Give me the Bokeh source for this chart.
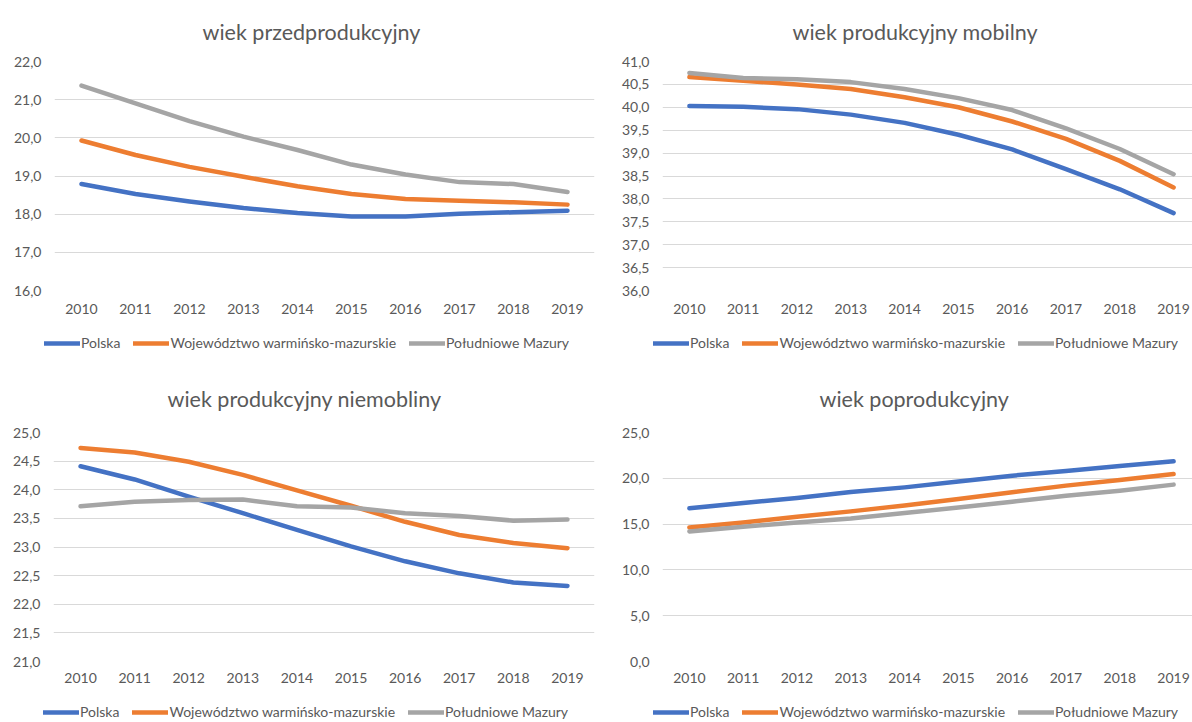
from bokeh.plotting import figure
from bokeh.models import FixedTicker, CustomJSTickFormatter, Range1d, Legend, LegendItem
from bokeh.layouts import column, row
from bokeh.embed import file_html
from bokeh.resources import INLINE

years = [2010, 2011, 2012, 2013, 2014, 2015, 2016, 2017, 2018, 2019]
series_names = ["Polska", "Województwo warmińsko-mazurskie", "Południowe Mazury"]
colors = ["#4472C4", "#ED7D31", "#A5A5A5"]

# wiek przedprodukcyjny
pre_polska = [18.79, 18.53, 18.33, 18.16, 18.03, 17.94, 17.94, 18.01, 18.05, 18.09]
pre_woj = [19.93, 19.55, 19.24, 18.98, 18.73, 18.53, 18.40, 18.35, 18.31, 18.25]
pre_mazury = [21.37, 20.90, 20.44, 20.03, 19.68, 19.30, 19.04, 18.84, 18.79, 18.58]
pre_ticks = [16.0, 17.0, 18.0, 19.0, 20.0, 21.0, 22.0]

# wiek produkcyjny mobilny
mob_polska = [40.03, 40.01, 39.96, 39.84, 39.66, 39.40, 39.08, 38.65, 38.21, 37.69]
mob_woj = [40.66, 40.58, 40.50, 40.40, 40.22, 40.00, 39.69, 39.31, 38.83, 38.25]
mob_mazury = [40.75, 40.64, 40.61, 40.55, 40.40, 40.20, 39.94, 39.54, 39.09, 38.54]
mob_ticks = [36.0, 36.5, 37.0, 37.5, 38.0, 38.5, 39.0, 39.5, 40.0, 40.5, 41.0]

# wiek produkcyjny niemobilny
nie_polska = [24.41, 24.18, 23.88, 23.59, 23.30, 23.01, 22.75, 22.54, 22.38, 22.32]
nie_woj = [24.73, 24.65, 24.49, 24.26, 23.99, 23.72, 23.44, 23.21, 23.07, 22.98]
nie_mazury = [23.71, 23.79, 23.82, 23.83, 23.71, 23.69, 23.59, 23.54, 23.46, 23.48]
nie_ticks = [21.0, 21.5, 22.0, 22.5, 23.0, 23.5, 24.0, 24.5, 25.0]

# wiek poprodukcyjny
post_polska = [16.72, 17.30, 17.85, 18.50, 19.01, 19.64, 20.29, 20.80, 21.35, 21.86]
post_woj = [14.63, 15.18, 15.80, 16.39, 17.04, 17.74, 18.47, 19.20, 19.82, 20.47]
post_mazury = [14.20, 14.71, 15.18, 15.62, 16.20, 16.82, 17.45, 18.10, 18.65, 19.31]
post_ticks = [0.0, 5.0, 10.0, 15.0, 20.0, 25.0]

FONT = "Lato"
TXT = "#595959"
LW = 4.5


def make_chart(title, data, yticks, width, height, fl, fw, ft, fh, x_end,
               title_offset, title_standoff, x_standoff):
    p = figure(width=width, height=height, output_backend="svg",
               toolbar_location=None, tools="",
               x_range=Range1d(2009.5, x_end),
               y_range=Range1d(yticks[0], yticks[-1]))
    p.min_border_left = fl
    p.min_border_right = width - fl - fw
    p.min_border_top = ft
    p.min_border_bottom = height - ft - fh
    p.outline_line_color = None
    p.background_fill_color = "white"
    p.border_fill_color = "white"

    p.title.text = title
    p.title.align = "left"
    p.title.offset = title_offset
    p.title.text_font = FONT
    p.title.text_font_size = "21.5px"
    p.title.text_font_style = "normal"
    p.title.text_color = TXT
    p.title.standoff = title_standoff

    p.xgrid.visible = False
    p.ygrid.grid_line_color = "#D9D9D9"
    p.ygrid.grid_line_width = 1
    p.yaxis.ticker = FixedTicker(ticks=yticks)
    p.xaxis.ticker = FixedTicker(ticks=years)
    p.yaxis.formatter = CustomJSTickFormatter(
        code="return tick.toFixed(1).replace('.', ',');")
    for ax in (p.xaxis, p.yaxis):
        ax.axis_line_color = None
        ax.major_tick_line_color = None
        ax.minor_tick_line_color = None
        ax.major_tick_out = 0
        ax.major_tick_in = 0
        ax.major_label_text_font = FONT
        ax.major_label_text_font_size = "14px"
        ax.major_label_text_color = TXT
    p.xaxis.major_label_standoff = x_standoff
    p.yaxis.major_label_standoff = 13

    for col, vals in zip(colors, data):
        p.line(years, vals, line_color=col, line_width=LW,
               line_cap="round", line_join="round")
    return p


def make_legend(width, height, lx, ly, data):
    lf = figure(width=width, height=height, output_backend="svg",
                toolbar_location=None, tools="",
                x_axis_type=None, y_axis_type=None,
                x_range=Range1d(0, 1), y_range=Range1d(0, 1))
    lf.min_border = 0
    lf.outline_line_color = None
    lf.background_fill_color = "white"
    lf.border_fill_color = "white"
    lf.xgrid.visible = False
    lf.ygrid.visible = False
    items = []
    for name, col, vals in zip(series_names, colors, data):
        # single out-of-view point: only carries the style for the legend key
        r = lf.line(x=[years[0]], y=[vals[0]], line_color=col, line_width=LW,
                    line_cap="round")
        items.append(LegendItem(label=name, renderers=[r]))
    leg = Legend(items=items, orientation="horizontal", location=(lx, ly))
    leg.border_line_color = None
    leg.background_fill_alpha = 0
    leg.padding = 0
    leg.margin = 0
    leg.spacing = 13
    leg.glyph_width = 36
    leg.glyph_height = 16
    leg.label_height = 16
    leg.label_standoff = 1
    leg.label_text_font = FONT
    leg.label_text_font_size = "14px"
    leg.label_text_color = TXT
    lf.add_layout(leg, "center")
    return lf


p1 = make_chart("wiek przedprodukcyjny", [pre_polska, pre_woj, pre_mazury],
                pre_ticks, 600, 326, 54, 540, 61, 229, 2019.5, 148, 33, 13)
p2 = make_chart("wiek produkcyjny mobilny", [mob_polska, mob_woj, mob_mazury],
                mob_ticks, 592, 326, 62, 530, 61, 229, 2009.5 + 530 / 53.8, 130, 33, 13)
p3 = make_chart("wiek produkcyjny niemobliny", [nie_polska, nie_woj, nie_mazury],
                nie_ticks, 600, 328, 53, 541, 70, 229, 2019.5, 114, 42, 11)
p4 = make_chart("wiek poprodukcyjny", [post_polska, post_woj, post_mazury],
                post_ticks, 592, 328, 62, 530, 70, 229, 2009.5 + 530 / 53.8, 157, 42, 11)

l1 = make_legend(600, 36, 44, 11, [pre_polska, pre_woj, pre_mazury])
l2 = make_legend(592, 36, 53, 11, [mob_polska, mob_woj, mob_mazury])
l3 = make_legend(600, 32, 43, 2, [nie_polska, nie_woj, nie_mazury])
l4 = make_legend(592, 32, 53, 2, [post_polska, post_woj, post_mazury])

layout = column(row(p1, p2), row(l1, l2), row(p3, p4), row(l3, l4))
open("out.html", "w").write(file_html(layout, INLINE))
